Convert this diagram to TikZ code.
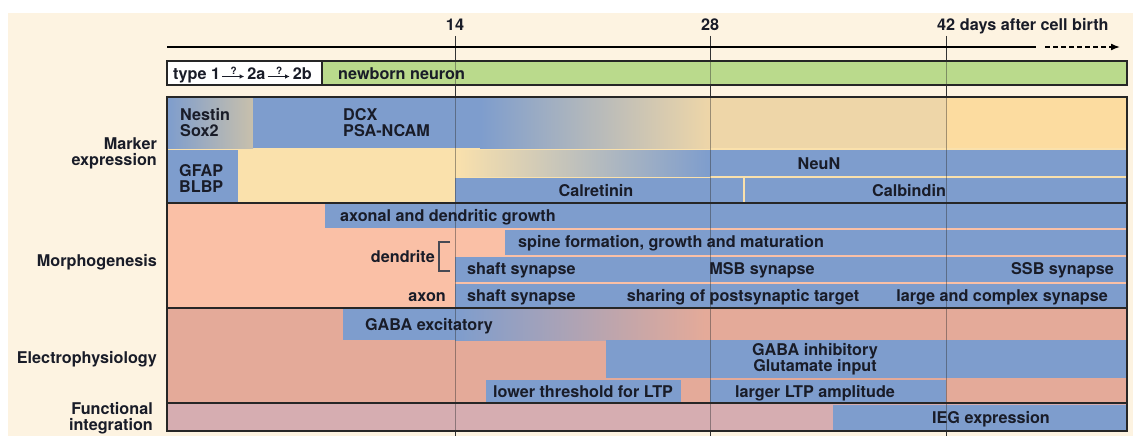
\documentclass[tikz,border=0pt]{standalone}
\usepackage{fontspec}
\setmainfont{TeX Gyre Heros}
\usetikzlibrary{positioning,arrows.meta}

\definecolor{paper}{RGB}{253,243,225}
\definecolor{barblue}{RGB}{126,157,205}
\definecolor{newgreen}{RGB}{186,218,140}
\definecolor{markyellow}{RGB}{250,225,172}
\definecolor{markbeige}{RGB}{238,214,168}
\definecolor{markorange}{RGB}{252,220,160}
\definecolor{nestgrey}{RGB}{200,192,172}
\definecolor{morphpink}{RGB}{250,192,166}
\definecolor{ephyspink}{RGB}{228,170,153}
\definecolor{funcmauve}{RGB}{214,173,177}
\definecolor{ink}{RGB}{25,28,40}

\begin{document}
\begin{tikzpicture}[
    x=1pt, y=-1pt,
    every node/.style={font=\fontsize{16.2}{16}\selectfont\bfseries, text=ink, inner sep=0pt},
    lbl/.style={anchor=west, text height=11.6pt, text depth=0pt},
    clbl/.style={text height=11.6pt, text depth=0pt},
    twoline/.style={anchor=west, align=left},
    rowlabel/.style={anchor=east, align=right},
    section/.style={draw=black!85, line width=1.5pt},
    daytick/.style={draw=black!80, line width=1pt},
    qarrow/.style={-{Latex[length=4.5pt,width=4.5pt]}, line width=1.2pt, draw=ink, shorten <=2pt, shorten >=3pt}
]
\useasboundingbox (0,0) rectangle (1133,436);
\fill[paper] (8,13) rectangle (1133,436);

% time axis
\coordinate (d14) at (455,36);
\coordinate (d28) at (710,36);
\coordinate (d42) at (946,36);
\coordinate (axstart) at (167,47);
\coordinate (axend) at (1036,47);
\coordinate (dashstart) at (1045,47);
\coordinate (dashend) at (1120,47);
\foreach \t in {d14,d28,d42}
  \draw[daytick] (\t) -- ++(0,400);
\draw[line width=1.6pt] (axstart) -- (axend);
\draw[line width=1.6pt, dash pattern=on 5pt off 3pt, -{Latex[length=9pt,width=7pt]}] (dashstart) -- (dashend);

\node[clbl, above=5pt of d14] (l14) {14};
\node[clbl, above=5pt of d28] (l28) {28};
\node[clbl, above=5pt of d42] (l42) {42};
\node[clbl, anchor=base west] (dafter) at ([xshift=4.5pt]l42.base east) {days after cell birth};

% cell type row
\draw[section, fill=white] (167,61) rectangle (322,85);
\draw[section, fill=newgreen] (322,61) rectangle (1127,85);
\node[lbl] (ty1) at (173,73.5) {type 1};
\node[lbl, right=27pt of ty1] (ty2a) {2a};
\node[lbl, right=27pt of ty2a] (ty2b) {2b};
\draw[qarrow] ([yshift=-3pt]ty1.east) -- node[above=1.5pt, font=\fontsize{10}{10}\selectfont\bfseries] {?} ([yshift=-3pt]ty2a.west);
\draw[qarrow] ([yshift=-3pt]ty2a.east) -- node[above=1.5pt, font=\fontsize{10}{10}\selectfont\bfseries] {?} ([yshift=-3pt]ty2b.west);
\node[lbl] (newborn) at (338,73.5) {newborn neuron};

% marker expression
\fill[markyellow] (167,97) rectangle (1127,203);
\shade[left color=barblue, right color=nestgrey] (167,97) rectangle (253,148);
\fill[barblue] (253,97) rectangle (480,148);
\shade[left color=barblue, right color=markbeige] (480,97) rectangle (710,148);
\fill[markbeige] (710,97) rectangle (946,148);
\fill[markorange] (946,97) rectangle (1127,148);
\fill[barblue] (167,150) rectangle (238,203);
\shade[left color=markyellow, right color=barblue] (455,150) rectangle (710,176);
\fill[barblue] (710,150) rectangle (1127,176);
\fill[barblue] (455,178) rectangle (743,203);
\fill[barblue] (745,178) rectangle (1127,203);

% morphogenesis
\fill[morphpink] (167,203) rectangle (1127,308);
\fill[barblue] (325,204) rectangle (1127,228);
\fill[barblue] (505,230) rectangle (1127,255);
\fill[barblue] (455,257) rectangle (1127,282);
\fill[barblue] (455,284) rectangle (1127,308);

% electrophysiology
\fill[ephyspink] (167,308) rectangle (1127,403);
\fill[barblue] (343,309) rectangle (455,340);
\shade[left color=barblue, right color=ephyspink] (455,309) rectangle (705,340);
\fill[barblue] (606,340) rectangle (1127,378);
\fill[barblue] (486,380) rectangle (681,403);
\fill[barblue] (710,380) rectangle (946,403);

% functional integration
\fill[funcmauve] (167,403) rectangle (1127,431);
\fill[barblue] (833,405) rectangle (1127,431);

\foreach \t in {d14,d28,d42}
  \draw[daytick, opacity=0.45] (\t) ++(0,25) -- ++(0,370);
\draw[section] (167,203) -- (1127,203);
\draw[section] (167,308) -- (1127,308);
\draw[section] (167,403) -- (1127,403);
\draw[line width=2pt, draw=black!85] (167,97) rectangle (1127,431);

% texts
\node[twoline] (nestin) at (180,122.5) {Nestin\\Sox2};
\node[twoline] (dcx) at (343,122.5) {DCX\\PSA-NCAM};
\node[twoline] (gfap) at (179,178) {GFAP\\BLBP};
\node[clbl] (neun) at (819,163.5) {NeuN};
\node[clbl] (calret) at (596,190.5) {Calretinin};
\node[clbl] (calbind) at (909,190.5) {Calbindin};

\node[lbl] (axdend) at (340,216) {axonal and dendritic growth};
\node[lbl] (spine) at (518,242) {spine formation, growth and maturation};
\node[lbl] (shaftd) at (467,269) {shaft synapse};
\node[clbl] (msb) at (762,269) {MSB synapse};
\node[clbl, anchor=east] (ssb) at (1114,269) {SSB synapse};
\node[lbl] (shafta) at (467,296) {shaft synapse};
\node[clbl] (sharing) at (743,296) {sharing of postsynaptic target};
\node[clbl, anchor=east] (largesyn) at (1108,296) {large and complex synapse};
\node[clbl, anchor=east] (dendlbl) at (435,257) {dendrite};
\node[clbl, anchor=east] (axonlbl) at (446,296) {axon};
\coordinate (brtop) at (450,242);
\coordinate (brbot) at (450,271);
\draw[line width=1.3pt, draw=ink!80] (brtop) -- ++(-11,0) |- (brbot);

\node[lbl] (gabaex) at (365,325) {GABA excitatory};
\node[align=center] (gabain) at (815,359) {GABA inhibitory\\Glutamate input};
\node[clbl] (lowthr) at (583,392) {lower threshold for LTP};
\node[clbl] (largerltp) at (815,392) {larger LTP amplitude};
\node[clbl] (ieg) at (991,418) {IEG expression};

\node[rowlabel] (rmark) at (157,153.5) {Marker\\expression};
\node[clbl, anchor=east] (rmorph) at (157,261) {Morphogenesis};
\node[clbl, anchor=east] (rephys) at (157,358) {Electrophysiology};
\node[rowlabel] (rfunc) at (153,418) {Functional\\integration};
\end{tikzpicture}
\end{document}
